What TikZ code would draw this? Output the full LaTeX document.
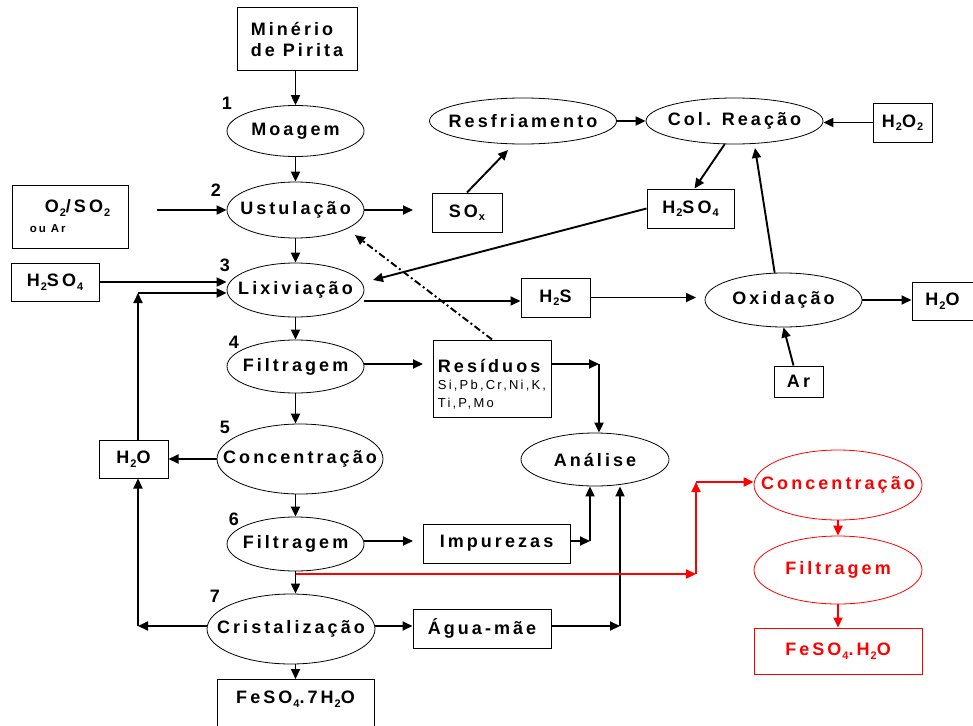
\documentclass[tikz,border=0pt]{standalone}
\usepackage{fontspec}
\setmainfont{Liberation Sans}
\newfontfamily\lf{Liberation Sans}[LetterSpace=17]
\usetikzlibrary{arrows.meta,calc,shapes.geometric}
\newcommand{\bigf}{\fontsize{18}{21}\lf\bfseries}
\newcommand{\smf}{\fontsize{13}{16}\lf\mdseries}
\newcommand{\sbx}[1]{\kern1pt\raisebox{-3.5pt}{\fontsize{11}{11}\selectfont #1}}
\tikzset{
  ell/.style={ellipse, draw, line width=0.8pt, inner sep=0pt},
  box/.style={rectangle, draw, line width=1pt, inner sep=0pt},
  arr/.style={line width=1.9pt, -{Triangle[length=10pt,width=9pt]}},
  rarr/.style={arr, draw=red, line width=2pt},
  dd/.style={arr, dash pattern=on 7pt off 3pt on 2pt off 3pt},
  num/.style={font=\fontsize{18}{18}\rmfamily\bfseries, inner sep=0pt},
  rell/.style={ell, draw=red},
}
\begin{document}
\begin{tikzpicture}[x=1pt, y=-1pt, font=\bigf]
\useasboundingbox (0,0) rectangle (973,725);

% central column
\node[box, minimum width=120, minimum height=62, align=left] (min) at (297,39) {Minério\\de Pirita};
\node[ell, minimum width=137, minimum height=51, label={center:Moagem}] (moa) at (295.5,131) {};
\node[ell, minimum width=137, minimum height=56, label={center:Ustulação}] (ust) at (295.5,210) {};
\node[ell, minimum width=137, minimum height=54, label={center:Lixiviação}] (lix) at (295.5,290) {};
\node[ell, minimum width=137, minimum height=53, label={center:Filtragem}] (fil1) at (295.5,366.5) {};
\node[ell, minimum width=166, minimum height=70, label={center:Concentração}] (conc) at (300,459) {};
\node[ell, minimum width=137, minimum height=54, label={center:Filtragem}] (fil2) at (295.5,544) {};
\node[ell, minimum width=168, minimum height=70, label={center:Cristalização}] (cri) at (291,629) {};
\node[box, minimum width=157, anchor=north, text height=24pt, text depth=30pt] (fes7) at (295.5,679) {FeSO\sbx{4}.7H\sbx{2}O};

% numbers
\node[num] (n1) at (227,103) {1};
\node[num] (n2) at (216,190) {2};
\node[num] (n3) at (225,265) {3};
\node[num] (n4) at (234,342) {4};
\node[num] (n5) at (225,427) {5};
\node[num] (n6) at (234,519) {6};
\node[num] (n7) at (215,596) {7};

% left side
\node[box, minimum width=116, minimum height=63, align=left] (o2) at (70,216.5) {\hspace*{15pt}O\sbx{2}/SO\sbx{2}\\[-1pt]{\fontsize{11.5}{13}\selectfont ou Ar}};
\node[box, minimum width=88, minimum height=38] (h2so4l) at (55,282) {H\sbx{2}SO\sbx{4}};
\node[box, minimum width=69, minimum height=38] (h2ol) at (133.5,459) {H\sbx{2}O};

% upper right
\node[box, minimum width=70, minimum height=39] (sox) at (467,212.5) {SO\sbx{x}};
\node[ell, minimum width=187, minimum height=46, label={center:Resfriamento}] (res) at (523,121) {};
\node[ell, minimum width=177, minimum height=46, label={center:Col. Reação}] (col) at (734.5,121) {};
\node[box, minimum width=59, minimum height=39] (h2o2) at (902.5,122.5) {H\sbx{2}O\sbx{2}};
\node[box, minimum width=87, minimum height=39] (h2so4r) at (690.5,208.5) {H\sbx{2}SO\sbx{4}};
\node[box, minimum width=69, minimum height=39] (h2s) at (555.5,297.5) {H\sbx{2}S};
\node[ell, minimum width=157, minimum height=54, label={center:Oxidação}] (oxi) at (783.5,300) {};
\node[box, minimum width=61, minimum height=38] (h2or) at (942.5,301) {H\sbx{2}O};
\node[box, minimum width=49, minimum height=31] (ar) at (798.5,381.5) {Ar};

% middle
\node[box, minimum width=118, minimum height=77, align=left] (resid) at (492,378.5) {\rule{0pt}{25pt}Resíduos\\[-4pt]{\smf Si,Pb,Cr,Ni,K,}\\[-3pt]{\smf Ti,P,Mo}};
\node[ell, minimum width=148, minimum height=53, label={center:Análise}] (ana) at (595,459.5) {};
\node[box, minimum width=147, minimum height=39] (imp) at (496.5,543.5) {Impurezas};
\node[box, minimum width=138, minimum height=39] (agua) at (482,628.5) {Água-mãe};

% red branch
\node[rell, minimum width=168, minimum height=70, label={[text=red]center:Concentração}] (rconc) at (838,485) {};
\node[rell, minimum width=168, minimum height=68, label={[text=red]center:Filtragem}] (rfil) at (838,570) {};
\node[box, draw=red, text=red, minimum width=168, minimum height=46] (rfes) at (838,651) {FeSO\sbx{4}.H\sbx{2}O};

% coordinates
\coordinate (o2s) at (157,210);
\coordinate (soxin) at (413,210);
\coordinate (resin) at (508,150);
\coordinate (lixin) at (373,280);
\coordinate (h2sl) at (0,301);
\coordinate (oxin) at (696,297.5);
\coordinate (colin) at (755,148);
\coordinate (filr) at (423,364);
\coordinate (resc) at (599,364);
\coordinate (ustin) at (355,235);
\coordinate (h2oc) at (138,293);
\coordinate (cric) at (138,626);
\coordinate (impin) at (413,541);
\coordinate (impc) at (590,541);
\coordinate (aguac) at (620,626);
\coordinate (rs) at (295.5,574);
\coordinate (rc1) at (696,574);
\coordinate (rc2) at (696,482);

% central connectors
\draw[arr] (moa.north |- min.south) -- (moa.north);
\draw[arr] (moa.south) -- (ust.north);
\draw[arr] (ust.south) -- (lix.north);
\draw[arr] (lix.south) -- (fil1.north);
\draw[arr] (fil1.south) -- (fil1.south |- conc.north);
\draw[arr] (fil2.north |- conc.south) -- (fil2.north);
\draw[arr] (fil2.south) -- (fil2.south |- cri.north);
\draw[arr] (fil2.south |- cri.south) -- (fil2.south |- fes7.north);

% upper
\draw[arr] (o2s) -- (ust.west);
\draw[arr] (ust.east) -- (soxin);
\draw[arr] (sox.north) -- (resin);
\draw[arr] (res.east) -- (col.west);
\draw[arr] (h2o2.west) -- (h2o2.west -| col.east);
\draw[arr] (col.247) -- ($(h2so4r.north)+(4,0)$);
\draw[arr] (h2so4r.west) -- (lixin);
\draw[arr] (lix.east |- h2sl) -- (h2s.west |- h2sl);
\draw[arr] (h2s.east) -- (oxin);
\draw[arr] (oxi.108) -- (colin);
\draw[arr] (oxi.east) -- (oxi.east -| h2or.west);
\draw[arr] ($(ar.north)+(-5,0)$) -- (oxi.south);

% left loops
\draw[arr] (h2so4l.east) -- (h2so4l.east -| lix.west);
\draw[arr] (h2ol.north -| h2oc) -- (h2oc);
\draw[arr] (h2oc) -- (h2oc -| lix.west);
\draw[arr] (conc.west) -- (conc.west -| h2ol.east);
\draw[arr] (cri.west |- cric) -- (cric);
\draw[arr] (cric) -- (cric |- h2ol.south);

% middle
\draw[arr] (fil1.east |- filr) -- (filr);
\draw[arr] (resid.east |- resc) -- (resc);
\draw[arr] (resc) -- (resc |- ana.north);
\draw[dd] (resid.north) -- (ustin);
\draw[arr] (fil2.east |- impin) -- (impin);
\draw[arr] (imp.east |- impc) -- (impc);
\draw[arr] (impc) -- (impc |- ana.south);
\draw[arr] (cri.east |- aguac) -- (agua.west |- aguac);
\draw[arr] (agua.east |- aguac) -- (aguac);
\draw[arr] (aguac) -- (aguac |- ana.south);

% red
\draw[rarr] (rs) -- (rc1);
\draw[rarr] (rc1) -- (rc2);
\draw[rarr] (rc2) -- (rc2 -| rconc.west);
\draw[rarr] (rconc.south) -- (rfil.north);
\draw[rarr] (rfil.south) -- (rfes.north);
\end{tikzpicture}
\end{document}
